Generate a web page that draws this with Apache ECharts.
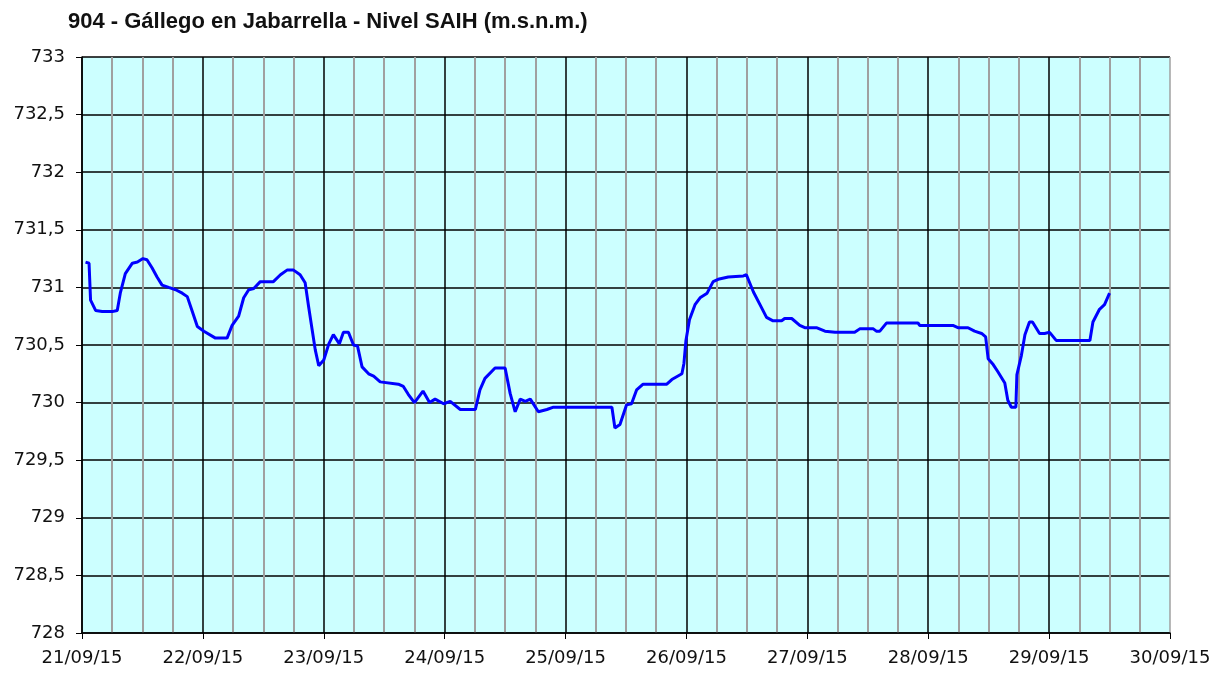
<!DOCTYPE html>
<html>
<head>
<meta charset="utf-8">
<script src="https://cdn.jsdelivr.net/npm/echarts@6/dist/echarts.min.js"></script>
<style>
html,body{margin:0;padding:0;background:#fff}
#main{width:1232px;height:673px}
</style>
</head>
<body>
<div id="main"></div>
<script>
// horas desde 21/09/15 00:00
var horas = [0.7,1.4,1.7,2.7,4.0,6.0,7.0,7.6,8.6,10.0,11.0,12.1,12.9,13.9,14.9,15.9,17.2,18.6,19.9,20.9,
    21.9,22.9,24.2,26.5,28.8,29.8,31.1,32.1,33.1,34.1,35.4,38.0,39.4,40.7,42.0,43.3,44.3,45.0,45.7,46.3,
    47.0,48.0,49.0,49.9,51.1,51.9,52.9,53.9,54.7,55.6,56.9,57.9,59.2,62.8,63.8,64.8,66.0,67.7,69.0,70.1,
    71.8,73.1,75.1,78.1,79.0,80.0,82.0,84.0,85.0,86.0,87.0,88.0,89.0,90.6,92.3,93.6,105.2,105.8,106.8,108.1,
    109.1,110.1,111.4,116.1,117.1,119.1,119.5,119.9,120.6,121.7,122.7,124.1,125.3,126.3,128.3,131.3,131.9,133.3,134.6,135.9,
    137.2,138.9,139.5,140.9,142.5,143.5,145.8,147.5,149.5,153.4,154.4,157.1,157.7,158.4,159.7,166.0,166.3,172.9,173.9,175.9,
    177.2,178.6,179.4,179.9,180.9,181.8,183.2,183.8,184.5,185.4,185.6,186.5,187.2,188.1,188.7,190.1,191.1,192.1,193.4,200.1,
    200.7,202.0,203.0,204.0];
var nivel = [731.22,731.21,730.89,730.80,730.79,730.79,730.80,730.95,731.12,731.21,731.22,731.25,731.24,731.17,731.09,731.02,731.00,730.98,730.95,730.92,
    730.79,730.66,730.62,730.56,730.56,730.67,730.75,730.91,730.98,730.99,731.05,731.05,731.11,731.15,731.15,731.11,731.04,730.83,730.63,730.46,
    730.32,730.37,730.51,730.59,730.51,730.61,730.61,730.50,730.49,730.31,730.25,730.23,730.18,730.16,730.14,730.07,730.00,730.10,730.00,730.03,
    729.99,730.01,729.94,729.94,730.11,730.21,730.30,730.30,730.08,729.92,730.03,730.01,730.03,729.92,729.94,729.96,729.96,729.78,729.81,729.98,
    729.99,730.11,730.16,730.16,730.20,730.25,730.34,730.54,730.72,730.85,730.91,730.95,731.05,731.07,731.09,731.10,731.11,730.96,730.85,730.74,
    730.71,730.71,730.73,730.73,730.67,730.65,730.65,730.62,730.61,730.61,730.64,730.64,730.62,730.62,730.69,730.69,730.67,730.67,730.65,730.65,
    730.62,730.60,730.57,730.38,730.33,730.27,730.17,730.02,729.96,729.96,730.24,730.41,730.59,730.70,730.70,730.60,730.60,730.61,730.54,730.54,
    730.70,730.81,730.85,730.95];
var dias = ['21/09/15','22/09/15','23/09/15','24/09/15','25/09/15','26/09/15','27/09/15','28/09/15','29/09/15','30/09/15'];

var serie = horas.map(function (h, i) {
    return [h, nivel[i]];
});
var coloresDia = dias.map(function (d, i) {
    return i == dias.length - 1 ? '#a0a0a0' : '#000';
});

var myChart = echarts.init(document.getElementById('main'));
var option = {
    animation: false,
    title: {
        text: '904 - Gállego en Jabarrella - Nivel SAIH (m.s.n.m.)',
        left: 63,
        top: 6,
        textStyle: {
            fontFamily: 'Liberation Sans',
            fontWeight: 'bold',
            fontSize: 22,
            color: '#111'
        }
    },
    grid: {
        left: 82,
        right: 62,
        top: 57,
        bottom: 40,
        show: true,
        backgroundColor: '#ccffff',
        borderWidth: 0
    },
    xAxis: {
        type: 'value',
        min: 0,
        max: 216,
        interval: 24,
        axisLine: {lineStyle: {color: '#000', width: 1.5}},
        axisTick: {show: true, length: 6, lineStyle: {color: '#000'}},
        axisLabel: {
            margin: 16,
            fontFamily: 'DejaVu Sans',
            fontSize: 18,
            color: '#111',
            formatter: function (v) {
                return dias[Math.round(v / 24)];
            }
        },
        splitLine: {show: true, lineStyle: {color: coloresDia, width: 1.5}},
        minorTick: {show: false, splitNumber: 4},
        minorSplitLine: {show: true, lineStyle: {color: '#a0a0a0', width: 2}}
    },
    yAxis: {
        type: 'value',
        min: 728,
        max: 733,
        interval: 0.5,
        axisLine: {show: true, lineStyle: {color: '#000', width: 1.5}},
        axisTick: {show: true, length: 6, lineStyle: {color: '#000'}},
        axisLabel: {
            margin: 17,
            fontFamily: 'DejaVu Sans',
            fontSize: 18,
            color: '#111',
            formatter: function (v) {
                return String(v).replace('.', ',');
            }
        },
        splitLine: {show: true, lineStyle: {color: '#000', width: 1.5}}
    },
    series: [{
        type: 'line',
        data: serie,
        showSymbol: false,
        lineStyle: {color: '#0000ff', width: 3},
        itemStyle: {color: '#0000ff'}
    }]
};
myChart.setOption(option);
</script>
</body>
</html>
